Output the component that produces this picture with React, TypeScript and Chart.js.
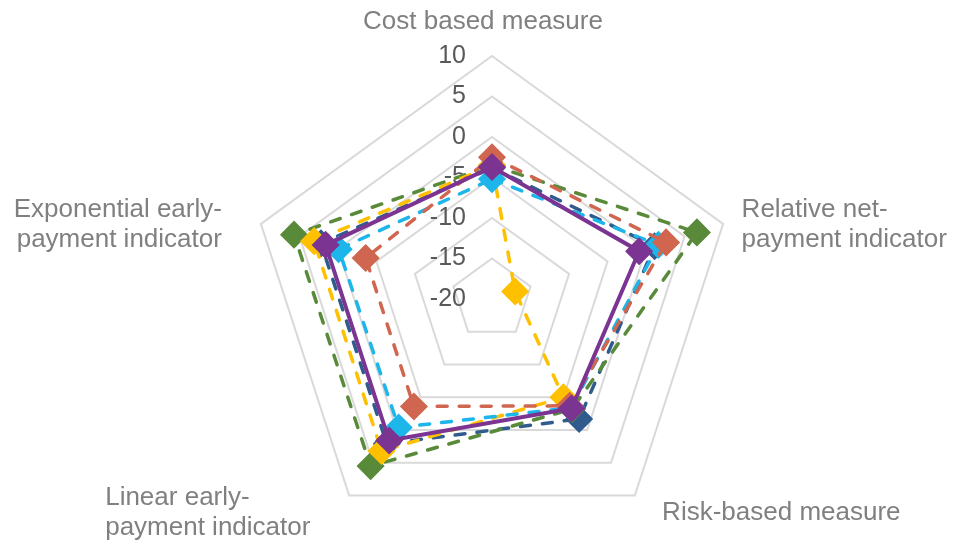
import React, { useEffect, useRef } from 'react';
import { Chart, registerables } from 'chart.js';

Chart.register(...registerables);

// ---- data ----
const categories: string[][] = [
  ['Cost based measure'],
  ['Relative net-', 'payment indicator'],
  ['Risk-based measure'],
  ['Linear early-', 'payment indicator'],
  ['Exponential early-', 'payment indicator'],
];
const tickMin = -20;
const tickMax = 10;
const tickStep = 5;

const seriesDarkBlue = [-3.8, 1.1, -1.7, 2.1, 2.2];
const seriesOrange = [-2.5, 2.6, -3.7, -3.6, -3.6];
const seriesGreen = [-3.5, 6.6, -3.2, 5.5, 5.7];
const seriesYellow = [-3.5, -17, -5.0, 3.2, 3.1];
const seriesLightBlue = [-5.2, 1.6, -3.4, -0.4, -0.1];
const seriesPurple = [-3.7, -0.9, -3.3, 1.6, 1.6];

// ---- layout / style ----
const FONT = '"Liberation Sans", Arial, sans-serif';
const labelLayout = [
  { align: 'center', dx: -9, dy: -27.5 },
  { align: 'left', dx: 18.5, dy: -7 },
  { align: 'center', dx: 146.5, dy: 24.5 },
  { align: 'left', dx: -244, dy: 9.5 },
  { align: 'right', dx: -39, dy: -7 },
];
const LINE_H = 30;

const textPlugin = {
  id: 'excelText',
  beforeDatasetsDraw(chart: any) {
    const scale = chart.scales.r;
    const ctx = chart.ctx;
    ctx.save();
    ctx.font = `25px ${FONT}`;
    ctx.fillStyle = '#595959';
    ctx.textAlign = 'right';
    ctx.textBaseline = 'middle';
    scale.ticks.forEach((t: any) => {
      const p = scale.getPointPositionForValue(0, t.value);
      ctx.fillText(String(t.value), p.x - 26, p.y);
    });
    ctx.restore();
  },
  afterDraw(chart: any) {
    const scale = chart.scales.r;
    const ctx = chart.ctx;
    ctx.save();
    ctx.font = `26px ${FONT}`;
    ctx.fillStyle = '#808080';
    ctx.textBaseline = 'alphabetic';
    categories.forEach((lines, i) => {
      const p = scale.getPointPositionForValue(i, scale.max);
      const L = labelLayout[i];
      ctx.textAlign = L.align as CanvasTextAlign;
      lines.forEach((line, j) => {
        ctx.fillText(line, p.x + L.dx, p.y + L.dy + j * LINE_H);
      });
    });
    ctx.restore();
  },
};

function ds(label: string, data: number[], color: string, dashed: boolean, order: number) {
  return {
    label,
    data,
    borderColor: color,
    backgroundColor: color,
    fill: false,
    borderWidth: dashed ? 3.5 : 4,
    borderDash: dashed ? [10, 12] : [],
    borderCapStyle: dashed ? 'round' : 'butt',
    borderJoinStyle: 'miter',
    pointStyle: 'rectRot',
    pointRadius: 13,
    pointHoverRadius: 13,
    pointBackgroundColor: color,
    pointBorderColor: color,
    pointBorderWidth: 1.5,
    tension: 0,
    order,
  };
}

export default function App() {
  const ref = useRef<HTMLCanvasElement | null>(null);
  useEffect(() => {
    if (!ref.current) return;
    const chart = new Chart(ref.current, {
      type: 'radar',
      data: {
        labels: categories,
        datasets: [
          ds('Series 1', seriesDarkBlue, '#2F5B8D', true, 5),
          ds('Series 2', seriesOrange, '#D0664F', true, 1),
          ds('Series 3', seriesGreen, '#588A3A', true, 4),
          ds('Series 4', seriesYellow, '#FFC000', true, 3),
          ds('Series 5', seriesLightBlue, '#1DB6EA', true, 2),
          ds('Series 6', seriesPurple, '#7B3491', false, 0),
        ] as any,
      },
      options: {
        responsive: false,
        animation: false,
        layout: { padding: { left: 249, right: 218, top: 56, bottom: 0 } },
        plugins: {
          legend: { display: false },
          title: { display: false },
          tooltip: { enabled: false },
        },
        scales: {
          r: {
            min: tickMin,
            max: tickMax,
            ticks: { stepSize: tickStep, display: false },
            grid: { color: '#D9D9D9', lineWidth: 2 },
            angleLines: { display: false },
            pointLabels: { display: false },
          },
        },
      },
      plugins: [textPlugin],
    });
    return () => chart.destroy();
  }, []);
  return (
    <div style={{ position: 'absolute', left: 0, top: 0, width: 953, height: 542, background: '#fff' }}>
      <canvas ref={ref} width={953} height={542} style={{ display: 'block' }} />
    </div>
  );
}
